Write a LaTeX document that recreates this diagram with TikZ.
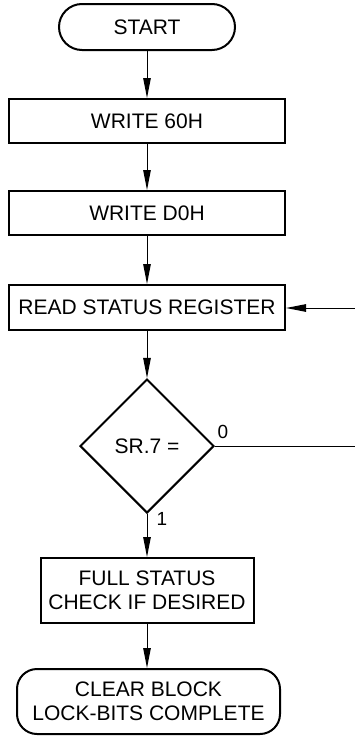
\documentclass[tikz,border=0pt]{standalone}
\usepackage{fontspec}
\setmainfont{Liberation Sans}
\usetikzlibrary{arrows.meta,shapes.geometric}
\begin{document}
\begin{tikzpicture}[x=1pt,y=-1pt,
  box/.style={draw,line width=2pt,inner sep=0pt,align=center,
    font=\fontsize{21}{23.5}\selectfont},
  term/.style={box},
  dec/.style={draw,diamond,line width=2pt,inner sep=0pt,minimum width=134pt,minimum height=134pt,
    font=\fontsize{21}{23.5}\selectfont},
  conn/.style={line width=1pt,-{Triangle[length=20pt,width=7.5pt]}},
  wire/.style={line width=1pt},
  lbl/.style={inner sep=0pt,font=\fontsize{19}{21}\selectfont}]
\useasboundingbox (0,0) rectangle (355,736);
\node[term,rounded corners=23pt,minimum width=176pt,minimum height=46pt] (start) at (147,27) {START};
\node[box,minimum width=276pt,minimum height=44pt] (w60) at (147,121) {WRITE 60H};
\node[box,minimum width=276pt,minimum height=44pt] (wd0) at (147,213) {WRITE D0H};
\node[box,minimum width=276pt,minimum height=45pt] (read) at (147,307.5) {READ STATUS REGISTER};
\node[dec] (sr) at (147,446) {SR.7 =};
\node[box,minimum width=213pt,minimum height=65pt] (full) at (147,590.5) {FULL STATUS\\CHECK IF DESIRED};
\node[term,rounded corners=20pt,minimum width=263pt,minimum height=65pt] (done) at (148.5,701.5) {CLEAR BLOCK\\LOCK-BITS COMPLETE};
\node[lbl] (l0) at (223,432) {0};
\node[lbl] (l1) at (162,519) {1};
\coordinate (r1) at (355,446);
\coordinate (r2) at (355,308);
\draw[conn] (start) -- (w60);
\draw[conn] (w60) -- (wd0);
\draw[conn] (wd0) -- (read);
\draw[conn] (read) -- (sr);
\draw[conn] (sr) -- (full);
\draw[conn] (full.south) -- (full.south |- done.north);
\draw[wire] (sr.east) -- (r1);
\draw[conn] (r2) -- (r2 -| read.east);
\end{tikzpicture}
\end{document}
